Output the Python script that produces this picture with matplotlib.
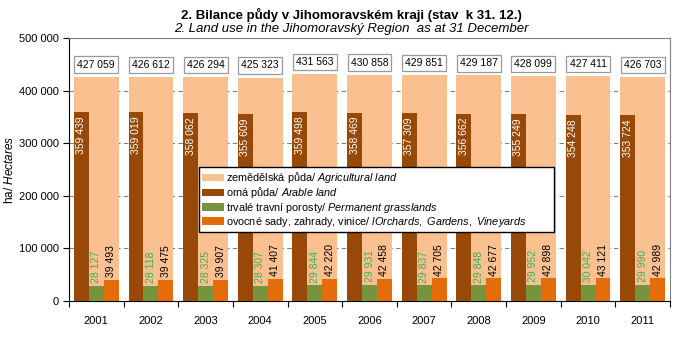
import matplotlib.pyplot as plt
import numpy as np

plt.rcParams['font.family'] = ['Liberation Sans', 'DejaVu Sans']
plt.rcParams['mathtext.fontset'] = 'custom'
plt.rcParams['mathtext.rm'] = 'Liberation Sans'
plt.rcParams['mathtext.it'] = 'Liberation Sans:italic'

years = ['2001', '2002', '2003', '2004', '2005', '2006', '2007', '2008', '2009', '2010', '2011']
zemedelska = [427059, 426612, 426294, 425323, 431563, 430858, 429851, 429187, 428099, 427411, 426703]
orna = [359439, 359019, 358062, 355609, 359498, 358469, 357309, 356662, 355249, 354248, 353724]
travni = [28127, 28118, 28325, 28307, 29844, 29931, 29837, 29848, 29952, 30042, 29990]
sady = [39493, 39475, 39907, 41407, 42220, 42458, 42705, 42677, 42898, 43121, 42989]

c_zem = '#FAC090'
c_orna = '#984807'
c_trav = '#77933C'
c_sady = '#E46C0A'


def fmt(v):
    return '{:,}'.format(v).replace(',', ' ')


fig = plt.figure(figsize=(6.83, 3.45), dpi=100)
ax = fig.add_axes([0.101, 0.128, 0.880, 0.761])

x = np.arange(len(years))
bw = 0.82
w = bw / 3
ax.bar(x, zemedelska, width=bw, color=c_zem, zorder=2,
       label='zemědělská půda/ $\\it{Agricultural\\ land}$')
ax.bar(x - w, orna, width=w, color=c_orna, zorder=3,
       label='orná půda/ $\\it{Arable\\ land}$')
ax.bar(x, travni, width=w, color=c_trav, zorder=3,
       label='trvalé travní porosty/ $\\it{Permanent\\ grasslands}$')
ax.bar(x + w, sady, width=w, color=c_sady, zorder=3,
       label='ovocné sady, zahrady, vinice/ $\\it{lOrchards,\\ Gardens,\\ Vineyards}$')

for i in x:
    # celkova vymera v ramecku nad sloupcem
    ax.text(i, zemedelska[i] + 23000, fmt(zemedelska[i]), ha='center', va='center', fontsize=7.5,
            bbox=dict(boxstyle='square,pad=0.3', fc='white', ec='#999999', lw=0.9), zorder=5)
    ax.text(i - w, orna[i] - 8000, fmt(orna[i]), rotation=90, ha='center', va='top',
            fontsize=7.5, color='white', zorder=5)
    ax.text(i, travni[i] + 5000, fmt(travni[i]), rotation=90, ha='center', va='bottom',
            fontsize=7.5, color='#33B35A', zorder=5)
    ax.text(i + w, sady[i] + 5000, fmt(sady[i]), rotation=90, ha='center', va='bottom',
            fontsize=7.5, color='black', zorder=5)

ax.set_ylim(0, 500000)
ax.set_xlim(-0.5, len(years) - 0.5)
ax.set_yticks(np.arange(0, 500001, 100000))
ax.set_yticklabels([fmt(v) for v in range(0, 500001, 100000)], fontsize=8)
ax.yaxis.grid(True, linestyle=(0, (4, 3)), color='#808080', lw=0.8, zorder=1)

ax.set_xticks(np.arange(-0.5, len(years), 1.0))
ax.set_xticklabels([])
ax.tick_params(axis='x', length=4, direction='out')
ax.set_xticks(x, minor=True)
ax.set_xticklabels(years, minor=True, fontsize=8)
ax.tick_params(axis='x', which='minor', length=0, pad=11)
ax.tick_params(axis='y', length=4, direction='out')

for s in ['top', 'right']:
    ax.spines[s].set_color('#808080')
ax.spines['left'].set_color('black')
ax.spines['bottom'].set_color('black')

ax.set_ylabel('ha/ $\\it{Hectares}$', fontsize=8.5)
ax.yaxis.set_label_coords(-0.088, 0.5)

ax.legend(loc='upper left', bbox_to_anchor=(0.216, 0.51, 0.591, 0), mode='expand', fontsize=7.8,
          frameon=True, fancybox=False, edgecolor='black', framealpha=1, handlelength=2.0,
          handleheight=0.7, borderpad=0.3, labelspacing=0.02, handletextpad=0.2, borderaxespad=0)

fig.text(0.514, 0.957, '2. Bilance půdy v Jihomoravském kraji (stav  k 31. 12.)',
         ha='center', va='center', fontsize=9.5, fontweight='bold')
fig.text(0.514, 0.916, '2. Land use in the Jihomoravský Region  as at 31 December',
         ha='center', va='center', fontsize=9.5, style='italic')

fig.savefig('out.png', dpi=100)
